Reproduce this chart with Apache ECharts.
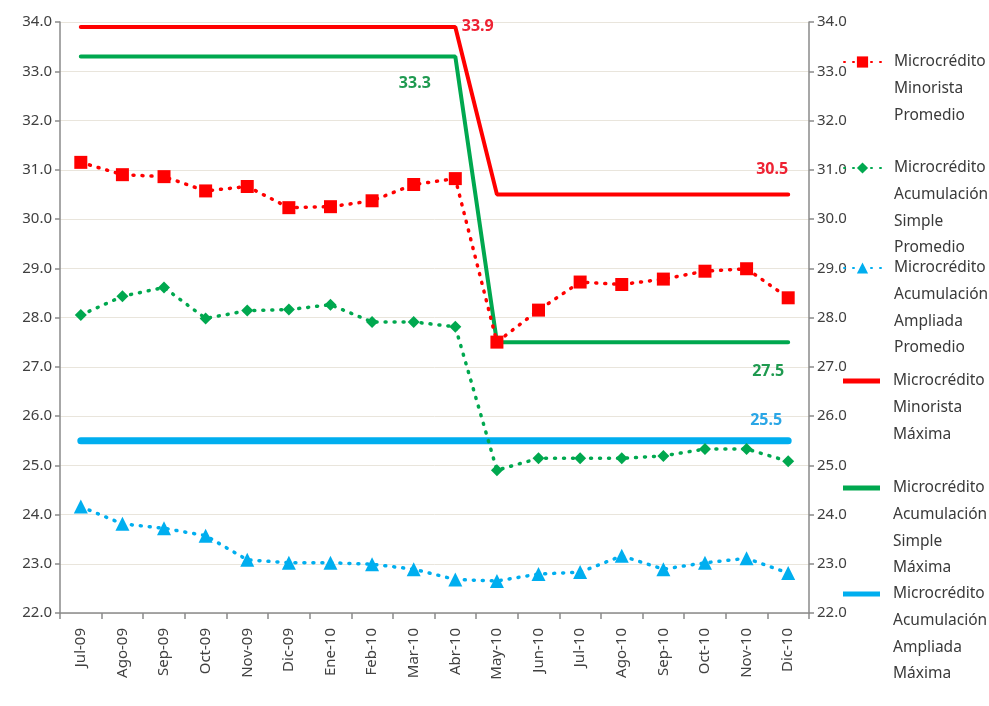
<!DOCTYPE html>
<html>
<head>
<meta charset="utf-8">
<script src="https://cdn.jsdelivr.net/npm/echarts@6/dist/echarts.min.js"></script>
<style>
  html, body { margin: 0; padding: 0; background: #ffffff; }
  #chart { width: 989px; height: 706px; }
</style>
</head>
<body>
<div id="chart"></div>
<script>
// Months on the category axis
const months = ['Jul-09', 'Ago-09', 'Sep-09', 'Oct-09', 'Nov-09', 'Dic-09', 'Ene-10', 'Feb-10', 'Mar-10',
                'Abr-10', 'May-10', 'Jun-10', 'Jul-10', 'Ago-10', 'Sep-10', 'Oct-10', 'Nov-10', 'Dic-10'];

// Average rates (%)
const minoristaPromedio = [31.15, 30.90, 30.86, 30.57, 30.66, 30.23, 30.25, 30.37, 30.70,
                           30.82, 27.50, 28.15, 28.72, 28.67, 28.78, 28.94, 28.99, 28.40];
const simplePromedio    = [28.05, 28.43, 28.61, 27.98, 28.14, 28.16, 28.26, 27.91, 27.91,
                           27.81, 24.90, 25.14, 25.14, 25.14, 25.19, 25.33, 25.33, 25.08];
const ampliadaPromedio  = [24.16, 23.81, 23.72, 23.57, 23.08, 23.02, 23.02, 22.99, 22.89,
                           22.68, 22.65, 22.79, 22.83, 23.16, 22.89, 23.02, 23.11, 22.81];

// Maximum rates (%)
const minoristaMaxima = [33.9, 33.9, 33.9, 33.9, 33.9, 33.9, 33.9, 33.9, 33.9,
                         33.9, 30.5, 30.5, 30.5, 30.5, 30.5, 30.5, 30.5, 30.5];
const simpleMaxima    = [33.3, 33.3, 33.3, 33.3, 33.3, 33.3, 33.3, 33.3, 33.3,
                         33.3, 27.5, 27.5, 27.5, 27.5, 27.5, 27.5, 27.5, 27.5];
const ampliadaMaxima  = [25.5, 25.5, 25.5, 25.5, 25.5, 25.5, 25.5, 25.5, 25.5,
                         25.5, 25.5, 25.5, 25.5, 25.5, 25.5, 25.5, 25.5, 25.5];

// Value axis range
const yMin = 22;
const yMax = 34;
const yStep = 1;

// Series names (shown in the legend, one word per line)
const names = [
  'Microcrédito\nMinorista\nPromedio',
  'Microcrédito\nAcumulación\nSimple\nPromedio',
  'Microcrédito\nAcumulación\nAmpliada\nPromedio',
  'Microcrédito\nMinorista\nMáxima',
  'Microcrédito\nAcumulación\nSimple\nMáxima',
  'Microcrédito\nAcumulación\nAmpliada\nMáxima'
];

const RED = '#ff0000';
const GREEN = '#00a84f';
const BLUE = '#00aeef';
const FONT = 'Noto Sans';
const AXIS_TEXT = '#404040';

// Attach value labels to selected points of a series
function labelled(values, labels) {
  return values.map((v, i) => {
    if (!labels[i]) return v;
    return {
      value: v,
      symbol: 'circle',
      symbolSize: 1,
      label: Object.assign({
        show: true,
        fontFamily: FONT,
        fontSize: 16,
        fontWeight: 'bold',
        formatter: p => Number(p.value).toFixed(1)
      }, labels[i])
    };
  });
}

function dotted(name, values, color, symbol, size) {
  return {
    name: name,
    type: 'line',
    data: values,
    symbol: symbol,
    symbolSize: size,
    itemStyle: { color: color },
    lineStyle: { color: color, width: 3.5, type: [1, 8], cap: 'round' },
    z: 3
  };
}

function solid(name, data, color, width) {
  return {
    name: name,
    type: 'line',
    data: data,
    symbol: 'none',
    itemStyle: { color: color },
    lineStyle: { color: color, width: width, cap: 'round' },
    z: 2
  };
}

// One legend block per series; the icon sits beside the first line of the name
const LH = 26.6;
function legendItem(name, iconY, solidIcon) {
  const lines = name.split('\n').length;
  return {
    data: [name],
    orient: 'vertical',
    left: 843,
    top: iconY - (2 * lines - 1) * LH / 2,
    padding: 0,
    itemWidth: 37,
    itemHeight: solidIcon ? 5 : 14,
    icon: solidIcon ? 'rect' : undefined,
    selectedMode: false,
    formatter: n => '\n'.repeat(lines - 1) + n,
    textStyle: {
      fontFamily: FONT,
      fontSize: 15.5,
      color: '#3a3a3a',
      lineHeight: LH,
      padding: [0, 0, 0, 8]
    }
  };
}

const chart = echarts.init(document.getElementById('chart'), null, { renderer: 'canvas' });

const valueAxis = (position) => ({
  type: 'value',
  position: position,
  min: yMin,
  max: yMax,
  interval: yStep,
  axisLine: { show: true, lineStyle: { color: '#8a8a8a', width: 1.5 } },
  axisTick: { show: true, length: 5, lineStyle: { color: '#8a8a8a', width: 1.5 } },
  axisLabel: {
    color: AXIS_TEXT,
    fontFamily: FONT,
    fontSize: 15,
    margin: 8,
    formatter: v => v.toFixed(1)
  },
  splitLine: { show: position === 'left', lineStyle: { color: '#e9e5dc', width: 1 } }
});

chart.setOption({
  animation: false,
  backgroundColor: '#ffffff',
  grid: { left: 60, right: 180, top: 22, bottom: 93 },
  xAxis: {
    type: 'category',
    data: months,
    boundaryGap: true,
    axisLine: { lineStyle: { color: '#8a8a8a', width: 1.5 } },
    axisTick: { show: true, length: 6, lineStyle: { color: '#8a8a8a', width: 1.5 } },
    axisLabel: {
      rotate: 90,
      margin: 15,
      color: AXIS_TEXT,
      fontFamily: FONT,
      fontSize: 15,
      interval: 0
    }
  },
  yAxis: [valueAxis('left'), valueAxis('right')],
  legend: [
    legendItem(names[0], 62, false),
    legendItem(names[1], 168, false),
    legendItem(names[2], 268, false),
    legendItem(names[3], 381, true),
    legendItem(names[4], 488, true),
    legendItem(names[5], 594, true)
  ],
  series: [
    dotted(names[0], minoristaPromedio, RED, 'rect', 13),
    dotted(names[1], simplePromedio, GREEN, 'diamond', 12),
    dotted(names[2], ampliadaPromedio, BLUE, 'triangle', 14),
    solid(names[3], labelled(minoristaMaxima, {
      9: { position: 'right', distance: 6, color: '#ee2233' },
      17: { position: 'top', offset: [-16, -11], color: '#ee2233' }
    }), RED, 4),
    solid(names[4], labelled(simpleMaxima, {
      9: { position: 'left', offset: [-19, 27], color: '#1f9a50' },
      17: { position: 'bottom', offset: [-20, 16], color: '#1f9a50' }
    }), GREEN, 4),
    solid(names[5], labelled(ampliadaMaxima, {
      17: { position: 'top', offset: [-22, -7], color: '#2aa6e6' }
    }), BLUE, 7)
  ]
});
</script>
</body>
</html>
